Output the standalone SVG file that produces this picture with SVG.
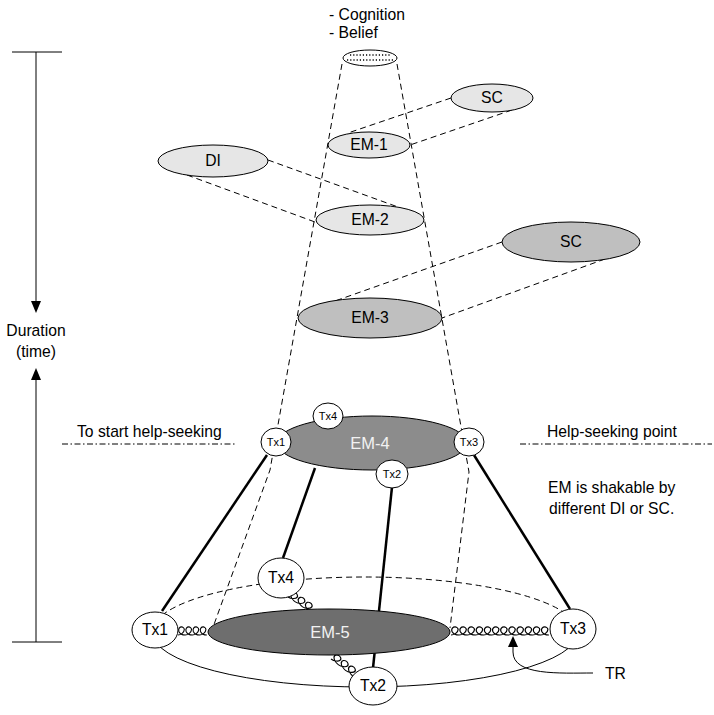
<svg xmlns="http://www.w3.org/2000/svg" width="714" height="715" viewBox="0 0 714 715">
<defs>
<style>
text{font-family:"Liberation Sans",Arial,sans-serif;font-size:15.7px;fill:#000}
.c{text-anchor:middle}
.w{fill:#f2f2f2}
.sm{font-size:11px}
.d{fill:none;stroke:#000;stroke-width:1;stroke-dasharray:6 4}
.dd{fill:none;stroke:#000;stroke-width:1;stroke-dasharray:6 2.5 1.5 2.5}
.t{fill:none;stroke:#000;stroke-width:2.5}
.s{fill:none;stroke:#000;stroke-width:1}
.n{stroke:#000;stroke-width:1}
.coil{fill:none;stroke:#000;stroke-width:1.2}
.dot{fill:none;stroke:#000;stroke-width:1.3;stroke-dasharray:1.2 2}
</style>
</defs>
<rect width="714" height="715" fill="#fff"/>

<g id="timeline">
<line class="s" x1="12" y1="52" x2="62" y2="52"/>
<line class="s" x1="12" y1="642" x2="62" y2="642"/>
<line class="s" x1="36" y1="52" x2="36" y2="304"/>
<polygon points="31,301 41,301 36,313" fill="#000"/>
<line class="s" x1="36" y1="642" x2="36" y2="378"/>
<polygon points="31,380 41,380 36,368" fill="#000"/>
<text class="c" x="36" y="336">Duration</text>
<text class="c" x="36" y="357">(time)</text>
</g>

<g id="labels">
<text x="329" y="20">- Cognition</text>
<text x="329" y="38">- Belief</text>
<text x="77" y="437">To start help-seeking</text>
<line class="dd" x1="62" y1="444" x2="235" y2="444"/>
<text x="547" y="437">Help-seeking point</text>
<line class="dd" x1="520" y1="444" x2="712" y2="444"/>
<text x="548" y="493">EM is shakable by</text>
<text x="549" y="514">different DI or SC.</text>
<text x="605" y="679">TR</text>
</g>

<g id="connectors">
<polyline class="d" points="342,64 270,470 212,630"/>
<polyline class="d" points="397,64 469,472 450,628"/>
<line class="d" x1="451" y1="98" x2="348" y2="133"/>
<line class="d" x1="512" y1="110" x2="410" y2="145"/>
<line class="d" x1="268" y1="160" x2="398" y2="207"/>
<line class="d" x1="187" y1="175" x2="315" y2="222"/>
<line class="d" x1="502" y1="242" x2="335" y2="301"/>
<line class="d" x1="605" y1="259" x2="442" y2="318"/>
<path class="d" d="M152,632 A213,55 0 0 1 578,632"/>
<path class="s" d="M578,632 A213,55 0 0 1 152,632"/>
<line class="t" x1="267" y1="455" x2="162" y2="611"/>
<line class="t" x1="315" y1="468" x2="283" y2="558"/>
<line class="t" x1="392" y1="487" x2="373" y2="668"/>
<line class="t" x1="474" y1="455" x2="570" y2="609"/>
<path class="coil" transform="translate(178,635) scale(0.9,0.9)" d="M0,0 c3,0 7,-3 7,-6 c0,-2 -2,-3 -3,-3 c-2,0 -4,2 -3,5 c1,2 4,4 7,4 c3,0 7,-3 7,-6 c0,-2 -2,-3 -3,-3 c-2,0 -4,2 -3,5 c1,2 4,4 7,4 c3,0 7,-3 7,-6 c0,-2 -2,-3 -3,-3 c-2,0 -4,2 -3,5 c1,2 4,4 7,4 c3,0 7,-3 7,-6 c0,-2 -2,-3 -3,-3 c-2,0 -4,2 -3,5 c1,2 4,4 7,4"/>
<path class="coil" transform="translate(451,635) scale(1.02,0.9)" d="M0,0 c3,0 7,-3 7,-6 c0,-2 -2,-3 -3,-3 c-2,0 -4,2 -3,5 c1,2 4,4 7,4 c3,0 7,-3 7,-6 c0,-2 -2,-3 -3,-3 c-2,0 -4,2 -3,5 c1,2 4,4 7,4 c3,0 7,-3 7,-6 c0,-2 -2,-3 -3,-3 c-2,0 -4,2 -3,5 c1,2 4,4 7,4 c3,0 7,-3 7,-6 c0,-2 -2,-3 -3,-3 c-2,0 -4,2 -3,5 c1,2 4,4 7,4 c3,0 7,-3 7,-6 c0,-2 -2,-3 -3,-3 c-2,0 -4,2 -3,5 c1,2 4,4 7,4 c3,0 7,-3 7,-6 c0,-2 -2,-3 -3,-3 c-2,0 -4,2 -3,5 c1,2 4,4 7,4 c3,0 7,-3 7,-6 c0,-2 -2,-3 -3,-3 c-2,0 -4,2 -3,5 c1,2 4,4 7,4 c3,0 7,-3 7,-6 c0,-2 -2,-3 -3,-3 c-2,0 -4,2 -3,5 c1,2 4,4 7,4 c3,0 7,-3 7,-6 c0,-2 -2,-3 -3,-3 c-2,0 -4,2 -3,5 c1,2 4,4 7,4 c3,0 7,-3 7,-6 c0,-2 -2,-3 -3,-3 c-2,0 -4,2 -3,5 c1,2 4,4 7,4 c3,0 7,-3 7,-6 c0,-2 -2,-3 -3,-3 c-2,0 -4,2 -3,5 c1,2 4,4 7,4 c3,0 7,-3 7,-6 c0,-2 -2,-3 -3,-3 c-2,0 -4,2 -3,5 c1,2 4,4 7,4"/>
<path class="coil" transform="translate(288,597) rotate(34) scale(1.1,0.85)" d="M0,0 c3,0 7,-3 7,-6 c0,-2 -2,-3 -3,-3 c-2,0 -4,2 -3,5 c1,2 4,4 7,4 c3,0 7,-3 7,-6 c0,-2 -2,-3 -3,-3 c-2,0 -4,2 -3,5 c1,2 4,4 7,4 c3,0 7,-3 7,-6 c0,-2 -2,-3 -3,-3 c-2,0 -4,2 -3,5 c1,2 4,4 7,4"/>
<path class="coil" transform="translate(331,659) rotate(38) scale(1.15,0.85)" d="M0,0 c3,0 7,-3 7,-6 c0,-2 -2,-3 -3,-3 c-2,0 -4,2 -3,5 c1,2 4,4 7,4 c3,0 7,-3 7,-6 c0,-2 -2,-3 -3,-3 c-2,0 -4,2 -3,5 c1,2 4,4 7,4 c3,0 7,-3 7,-6 c0,-2 -2,-3 -3,-3 c-2,0 -4,2 -3,5 c1,2 4,4 7,4"/>
<path class="s" d="M593,673 C560,673 513,676 513,652 L513,646"/>
<polygon points="508,647 518,647 513,636" fill="#000"/>
</g>

<g id="origin">
<ellipse class="n" cx="370" cy="58" rx="27" ry="8" fill="#fff"/>
<line class="dot" x1="350" y1="55" x2="391" y2="55"/>
<line class="dot" x1="347" y1="60" x2="394" y2="60"/>
</g>
<g id="sc1"><ellipse class="n" cx="492" cy="98" rx="41" ry="14" fill="#e6e6e6"/><text class="c" x="492" y="103">SC</text></g>
<g id="em1"><ellipse class="n" cx="369" cy="145" rx="41" ry="13" fill="#e6e6e6"/><text class="c" x="369" y="150">EM-1</text></g>
<g id="di"><ellipse class="n" cx="213" cy="161" rx="55" ry="16" fill="#e6e6e6"/><text class="c" x="213" y="166">DI</text></g>
<g id="em2"><ellipse class="n" cx="370" cy="220" rx="54" ry="15" fill="#e6e6e6"/><text class="c" x="370" y="225">EM-2</text></g>
<g id="sc2"><ellipse class="n" cx="571" cy="242" rx="69" ry="20" fill="#bfbfbf"/><text class="c" x="571" y="247">SC</text></g>
<g id="em3"><ellipse class="n" cx="370" cy="318" rx="72" ry="20" fill="#bfbfbf"/><text class="c" x="370" y="323">EM-3</text></g>
<g id="em4"><ellipse class="n" cx="372" cy="443" rx="95" ry="27" fill="#8c8c8c"/><text class="c w" x="370" y="449" style="font-size:16.5px">EM-4</text></g>
<g id="em4-tx4"><ellipse class="n" cx="328" cy="416" rx="15" ry="13" fill="#fff"/><text class="c sm" x="328" y="420">Tx4</text></g>
<g id="em4-tx1"><ellipse class="n" cx="276" cy="442" rx="15" ry="14" fill="#fff"/><text class="c sm" x="276" y="446">Tx1</text></g>
<g id="em4-tx2"><ellipse class="n" cx="392" cy="474" rx="16" ry="14" fill="#fff"/><text class="c sm" x="392" y="478">Tx2</text></g>
<g id="em4-tx3"><ellipse class="n" cx="469" cy="442" rx="15" ry="14" fill="#fff"/><text class="c sm" x="469" y="446">Tx3</text></g>
<g id="em5"><ellipse class="n" cx="329" cy="632" rx="121" ry="23" fill="#6e6e6e"/><text class="c w" x="330" y="638" style="font-size:16.5px">EM-5</text></g>
<g id="tx1"><ellipse class="n" cx="155" cy="630" rx="23" ry="18" fill="#fff"/><text class="c" x="155" y="635">Tx1</text></g>
<g id="tx4"><ellipse class="n" cx="281" cy="578" rx="23" ry="20" fill="#fff"/><text class="c" x="281" y="583">Tx4</text></g>
<g id="tx2"><ellipse class="n" cx="373" cy="686" rx="24" ry="19" fill="#fff"/><text class="c" x="373" y="691">Tx2</text></g>
<g id="tx3"><ellipse class="n" cx="573" cy="629" rx="23" ry="20" fill="#fff"/><text class="c" x="573" y="634">Tx3</text></g>
</svg>
